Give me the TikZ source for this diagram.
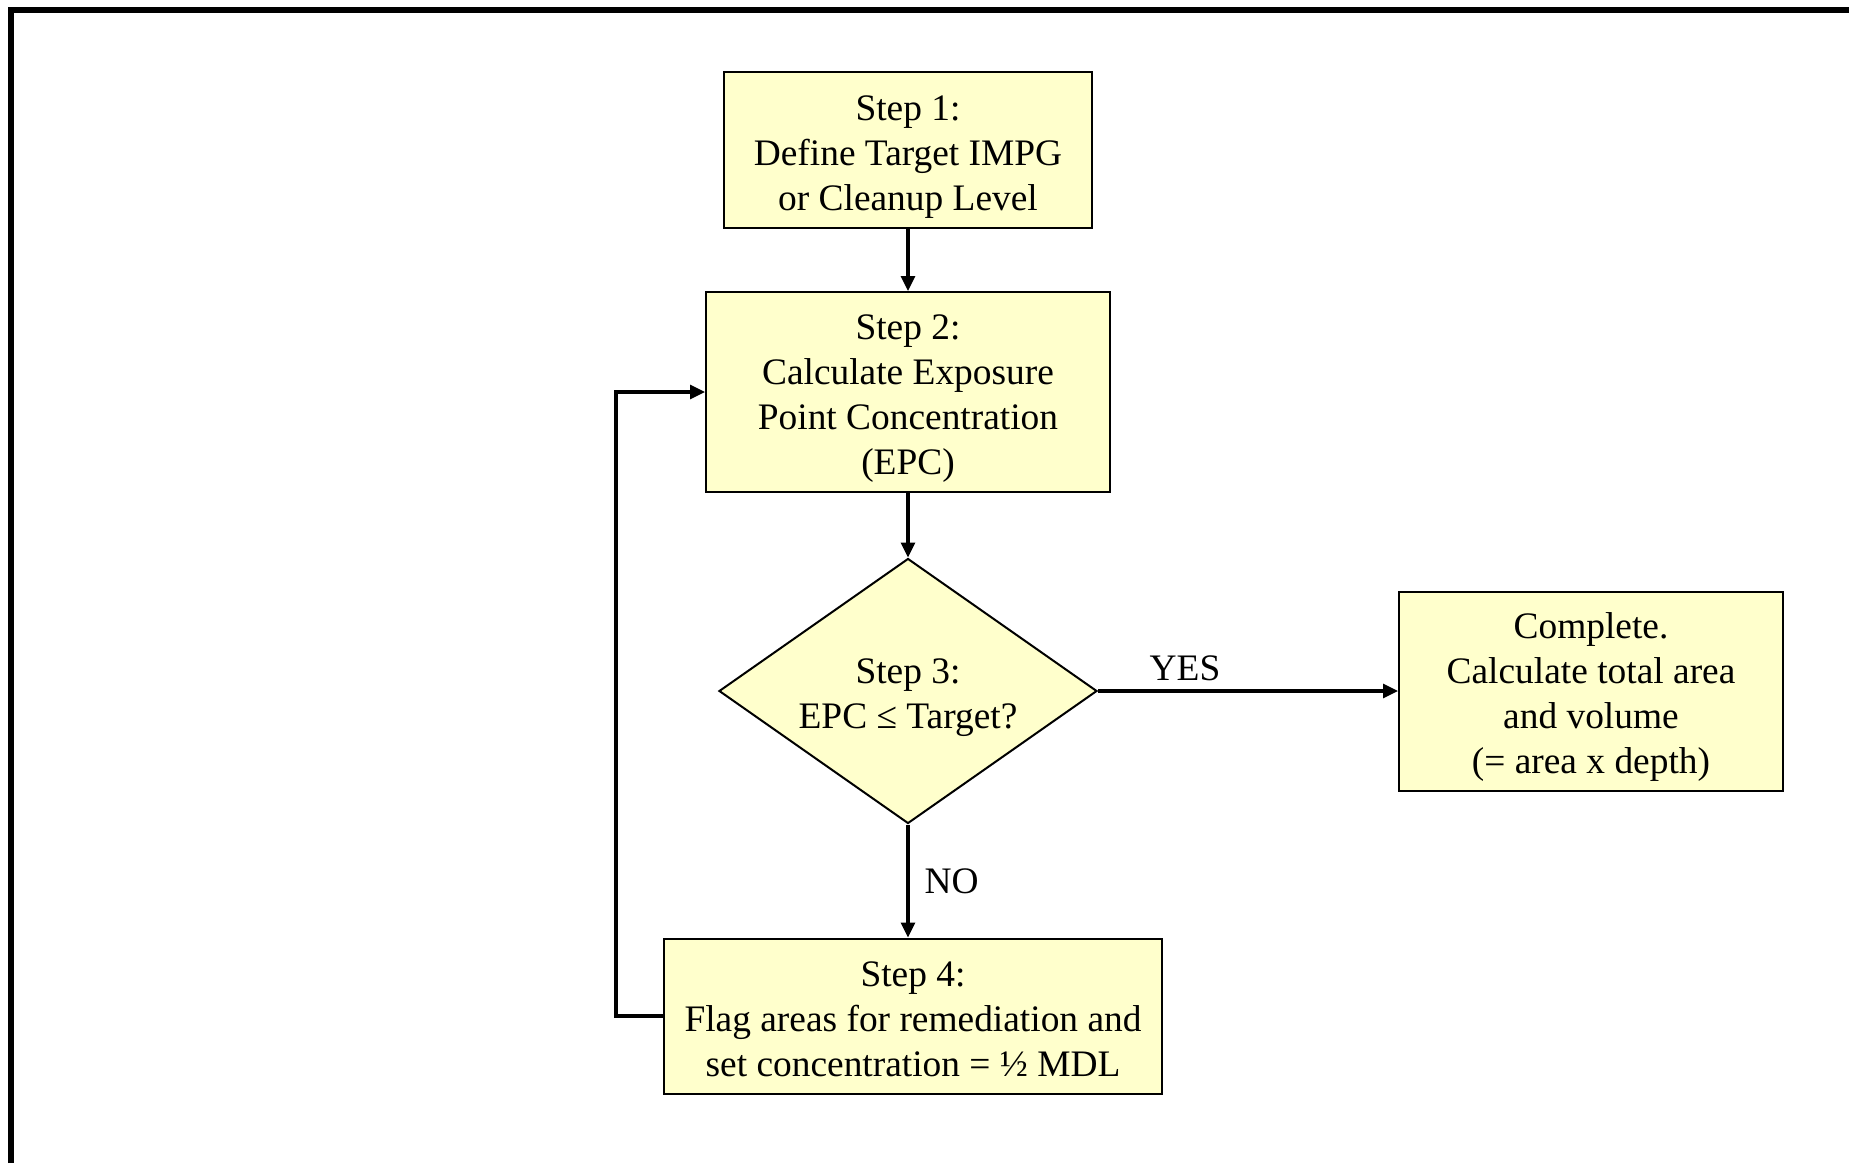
\documentclass[tikz,border=0pt]{standalone}
\usepackage{fontspec}
\setmainfont{Liberation Serif}
\usetikzlibrary{shapes.geometric,arrows.meta}
\definecolor{boxfill}{HTML}{FFFFCC}
\newcommand\boxtext[1]{\raisebox{-3.2pt}[\height][\depth]{\begin{tabular}{@{}c@{}}#1\end{tabular}}}
\tikzset{
  px/.style={x=0.5pt,y=-0.5pt},
  stepbox/.style={draw=black,line width=1pt,fill=boxfill,inner sep=0pt,
    font=\fontsize{18.7}{22.5}\selectfont},
  decide/.style={stepbox,shape=diamond,aspect=1.43},
  flow/.style={line width=1.6pt,-{Triangle[length=7.5pt,width=7pt]}},
  lbl/.style={font=\fontsize{18.7}{22.5}\selectfont,inner sep=0pt}
}
\begin{document}
\begin{tikzpicture}[px]
\useasboundingbox (0,0) rectangle (1849,1163);
% frame (top and left edges)
\draw[line width=3pt] (11,1163) -- (11,10) -- (1849,10);
\node[stepbox,minimum width=184pt,minimum height=78pt] (s1) at (908,150) {\boxtext{Step 1:\\Define Target IMPG\\or Cleanup Level}};
\node[stepbox,minimum width=202pt,minimum height=100pt] (s2) at (908,392) {\boxtext{Step 2:\\Calculate Exposure\\Point Concentration\\(EPC)}};
\node[decide,minimum width=189pt,minimum height=132.5pt] (s3) at (908,691) {\boxtext{Step 3:\\EPC ≤ Target?}};
\node[stepbox,minimum width=192pt,minimum height=99.5pt] (done) at (1591,691) {\boxtext{Complete.\\Calculate total area\\and volume\\(= area x depth)}};
\node[stepbox,minimum width=249pt,minimum height=77.5pt] (s4) at (913,1016) {\boxtext{Step 4:\\Flag areas for remediation and\\set concentration = ½ MDL}};
\coordinate (loopb) at (616,1016);
\coordinate (loopt) at (616,392);
\draw[flow] (s1) -- (s2);
\draw[flow] (s2) -- (s3);
\draw[flow] (s3.east) -- node[lbl,above=4.5pt,pos=0.29] (yes) {YES} (done.west);
\draw[flow] (s3.south) -- node[lbl,right=7.5pt,pos=0.5] (no) {NO} (s3.south |- s4.north);
\draw[flow] (s4.west) -- (loopb) -- (loopt) -- (s2.west);
\end{tikzpicture}
\end{document}
